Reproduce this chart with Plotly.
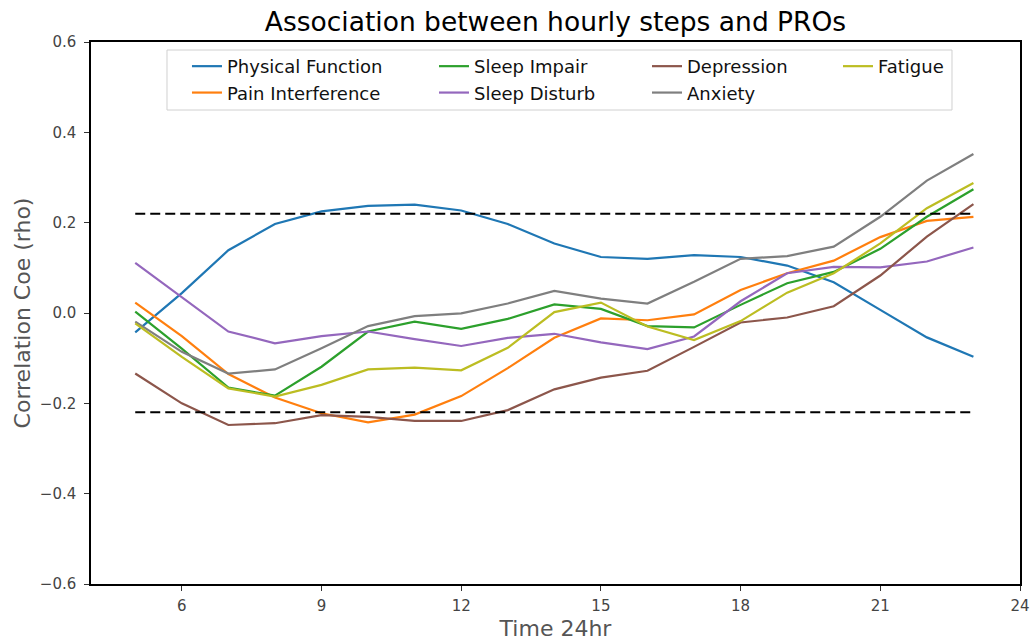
import plotly.graph_objects as go

hours = list(range(5, 24))

physical_function = [-0.043, 0.044, 0.139, 0.197, 0.225, 0.237, 0.240, 0.227, 0.197, 0.154, 0.124, 0.120, 0.128, 0.124, 0.105, 0.068, 0.007, -0.054, -0.097]
pain_interference = [0.023, -0.051, -0.135, -0.187, -0.222, -0.242, -0.225, -0.184, -0.122, -0.055, -0.012, -0.016, -0.003, 0.051, 0.088, 0.116, 0.168, 0.204, 0.213]
sleep_impair = [0.003, -0.079, -0.165, -0.183, -0.119, -0.041, -0.019, -0.035, -0.013, 0.019, 0.009, -0.029, -0.032, 0.018, 0.066, 0.091, 0.142, 0.213, 0.274]
sleep_disturb = [0.111, 0.036, -0.041, -0.067, -0.051, -0.041, -0.058, -0.073, -0.055, -0.046, -0.065, -0.080, -0.052, 0.026, 0.088, 0.102, 0.101, 0.114, 0.145]
depression = [-0.134, -0.200, -0.248, -0.244, -0.226, -0.230, -0.239, -0.239, -0.215, -0.169, -0.143, -0.128, -0.075, -0.021, -0.010, 0.015, 0.083, 0.169, 0.241]
anxiety = [-0.019, -0.086, -0.134, -0.125, -0.078, -0.029, -0.007, -0.001, 0.021, 0.049, 0.032, 0.021, 0.069, 0.120, 0.126, 0.147, 0.213, 0.293, 0.352]
fatigue = [-0.023, -0.097, -0.167, -0.185, -0.159, -0.125, -0.121, -0.127, -0.077, 0.002, 0.023, -0.030, -0.060, -0.018, 0.045, 0.088, 0.154, 0.232, 0.288]

series_names = ["Physical Function", "Pain Interference", "Sleep Impair", "Sleep Disturb",
                "Depression", "Anxiety", "Fatigue"]
series_values = [physical_function, pain_interference, sleep_impair, sleep_disturb,
                 depression, anxiety, fatigue]
colors = ["#1f77b4", "#ff7f0e", "#2ca02c", "#9467bd", "#8c564b", "#7f7f7f", "#bcbd22"]
legend_ids = ["legend", "legend", "legend2", "legend2", "legend3", "legend3", "legend4"]

THRESH = 0.22
x_ticks = [6, 9, 12, 15, 18, 21, 24]
y_ticks = [-0.6, -0.4, -0.2, 0.0, 0.2, 0.4, 0.6]

FONT = "DejaVu Sans"

fig = go.Figure()

for name, vals, col, lg in zip(series_names, series_values, colors, legend_ids):
    fig.add_trace(go.Scatter(x=hours, y=vals, mode="lines", name=name,
                             line=dict(color=col, width=2.2), legend=lg))

for t in (THRESH, -THRESH):
    fig.add_trace(go.Scatter(x=[hours[0], hours[-1]], y=[t, t], mode="lines",
                             line=dict(color="black", width=2, dash="10px,5px"),
                             showlegend=False, hoverinfo="skip"))

legend_style = dict(bgcolor="rgba(0,0,0,0)", borderwidth=0,
                    font=dict(family=FONT, size=18, color="#111111"),
                    yanchor="top", xanchor="left", y=0.989, tracegroupgap=0)

fig.update_layout(
    width=1036, height=644,
    margin=dict(l=91, r=16, t=42, b=60, autoexpand=False),
    paper_bgcolor="white", plot_bgcolor="white",
    font=dict(family=FONT),
    title=dict(text="Association between hourly steps and PROs", x=0.5, xref="paper",
               y=0.967, yref="container", xanchor="center", yanchor="middle",
               font=dict(family=FONT, size=26.5, color="black")),
    legend=dict(x=0.1033, **legend_style),
    legend2=dict(x=0.3692, **legend_style),
    legend3=dict(x=0.5985, **legend_style),
    legend4=dict(x=0.8041, **legend_style),
    shapes=[dict(type="rect", xref="paper", yref="paper", x0=0.0818, x1=0.9268,
                 y0=0.8745, y1=0.9852, line=dict(color="#d0d0d0", width=1),
                 fillcolor="rgba(255,255,255,0.8)", layer="below")],
)

fig.update_xaxes(range=[4.05, 24], tickvals=x_ticks, ticks="outside", ticklen=5,
                 tickcolor="#333333", showgrid=False, zeroline=False, automargin=False,
                 showline=True, mirror=True, linecolor="black", linewidth=1.5,
                 ticklabelstandoff=2,
                 tickfont=dict(family=FONT, size=15, color="#444444"),
                 title=dict(text="Time 24hr", standoff=7,
                            font=dict(family=FONT, size=22, color="#555555")))
fig.update_yaxes(range=[-0.6, 0.6], tickvals=y_ticks, tickformat=".1f", ticks="outside",
                 ticklen=5, tickcolor="#333333", showgrid=False, zeroline=False,
                 automargin=False, ticklabelstandoff=5,
                 showline=True, mirror=True, linecolor="black", linewidth=1.5,
                 tickfont=dict(family=FONT, size=15, color="#444444"),
                 title=dict(text="Correlation Coe (rho)", standoff=3,
                            font=dict(family=FONT, size=22, color="#555555")))

fig.write_html("out.html", config={"displayModeBar": False},
               post_script="document.body.style.margin='0';document.body.style.overflow='hidden';")
